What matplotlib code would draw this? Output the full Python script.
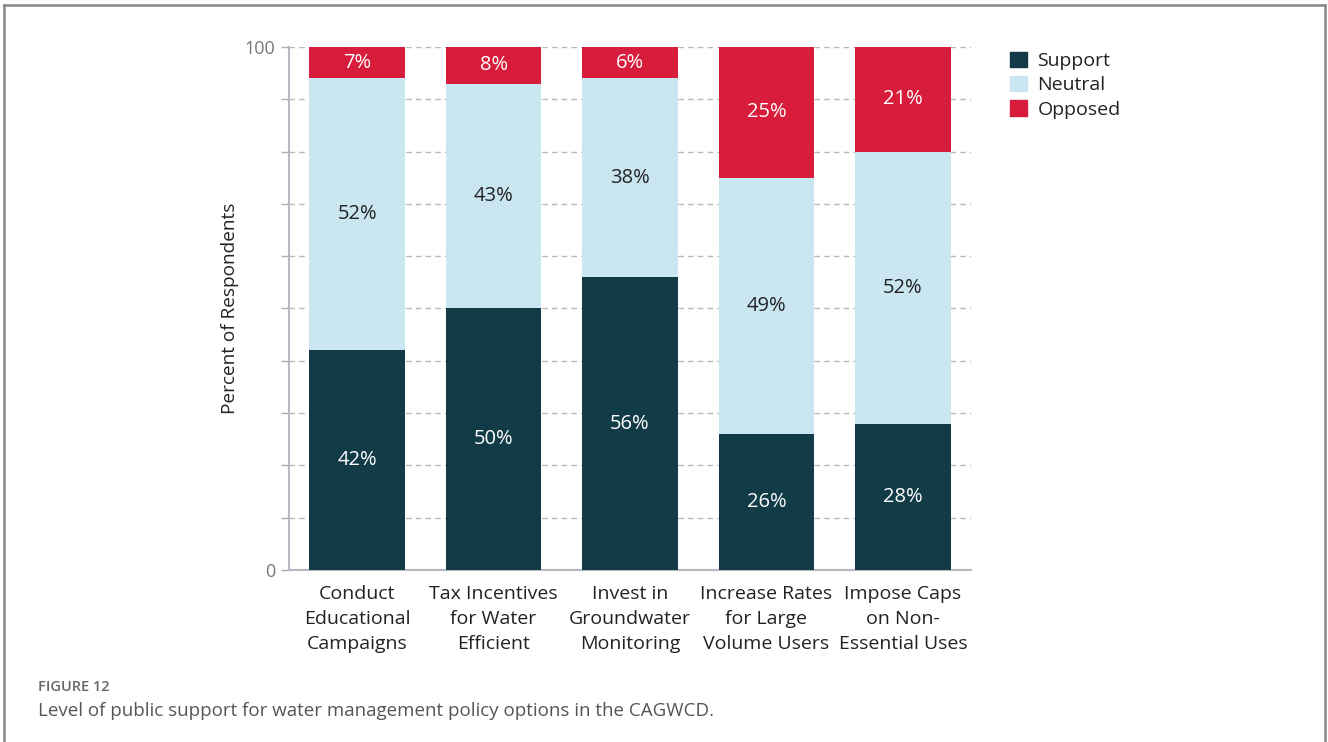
import matplotlib
matplotlib.use("Agg")
import matplotlib.pyplot as plt
from matplotlib.patches import Rectangle
from matplotlib.lines import Line2D
import numpy as np

plt.rcParams['font.family'] = ['Open Sans', 'DejaVu Sans']

categories = [
    "Conduct\nEducational\nCampaigns",
    "Tax Incentives\nfor Water\nEfficient",
    "Invest in\nGroundwater\nMonitoring",
    "Increase Rates\nfor Large\nVolume Users",
    "Impose Caps\non Non-\nEssential Uses",
]
support = [42, 50, 56, 26, 28]
neutral = [52, 43, 38, 49, 52]
opposed = [7, 8, 6, 25, 21]
series_names = ["Support", "Neutral", "Opposed"]

colors = {"Support": "#123b48", "Neutral": "#cae6f1", "Opposed": "#d81c3c"}
text_colors = {"Support": "white", "Neutral": "#222222", "Opposed": "white"}

fig = plt.figure(figsize=(13.28, 7.42), dpi=100)
ax = fig.add_axes([0.2176, 0.2318, 0.7312 - 0.2176, 0.9367 - 0.2318])

x = np.arange(len(categories))
bottom = np.zeros(len(categories))
for name, vals in zip(series_names, [support, neutral, opposed]):
    vals = np.array(vals, dtype=float)
    ax.bar(x, vals, bottom=bottom, width=0.70, color=colors[name],
           label=name, zorder=3, clip_on=True)
    for xi, b, v in zip(x, bottom, vals):
        top = min(b + v, 100)
        ax.text(xi, (b + top) / 2, f"{int(v)}%", ha="center", va="center",
                color=text_colors[name], fontsize=14.5, zorder=4)
    bottom += vals

ax.set_xlim(-0.5, 4.5)
ax.set_ylim(0, 100)
ax.set_yticks(np.arange(0, 101, 10))
ax.set_yticklabels(["0"] + [""] * 9 + ["100"])
ax.tick_params(axis="y", colors="#aaaab4", length=6, width=1, labelcolor="#777777",
               labelsize=13, pad=4)
ax.tick_params(axis="x", length=0, labelsize=14, labelcolor="#222222", pad=11)
ax.set_xticks(x)
ax.set_xticklabels(categories, linespacing=1.5)
ax.yaxis.grid(True, linestyle=(0, (4, 3)), color="#b8b8b8", linewidth=1, zorder=0)
for s in ["top", "right"]:
    ax.spines[s].set_visible(False)
for s in ["left", "bottom"]:
    ax.spines[s].set_color("#b8b8c2")
    ax.spines[s].set_linewidth(1.5)
ax.set_ylabel("Percent of Respondents", fontsize=13.7, color="#222222", labelpad=4)

handles = [Rectangle((0, 0), 1, 1, color=colors[n]) for n in series_names]
fig.legend(handles, series_names, loc="upper left", bbox_to_anchor=(0.7475, 0.954),
           frameon=False, fontsize=14, handlelength=0.85, handleheight=0.85,
           labelspacing=0.3, handletextpad=0.55, labelcolor="#222222")

fig.text(0.0286, 0.074, "FIGURE 12", fontsize=10.5, color="#666666", fontweight="semibold",
         va="center")
fig.text(0.0286, 0.042, "Level of public support for water management policy options in the CAGWCD.",
         fontsize=13.5, color="#555555", va="center")

# outer page frame
for xs, ys in [([0.003, 0.9974], [0.9926, 0.9926]),
               ([0.003, 0.003], [0.9926, -0.1]),
               ([0.9974, 0.9974], [0.9926, -0.1])]:
    fig.add_artist(Line2D(xs, ys, transform=fig.transFigure, color="#888888", linewidth=1.8))

fig.savefig("out.png", dpi=100)
